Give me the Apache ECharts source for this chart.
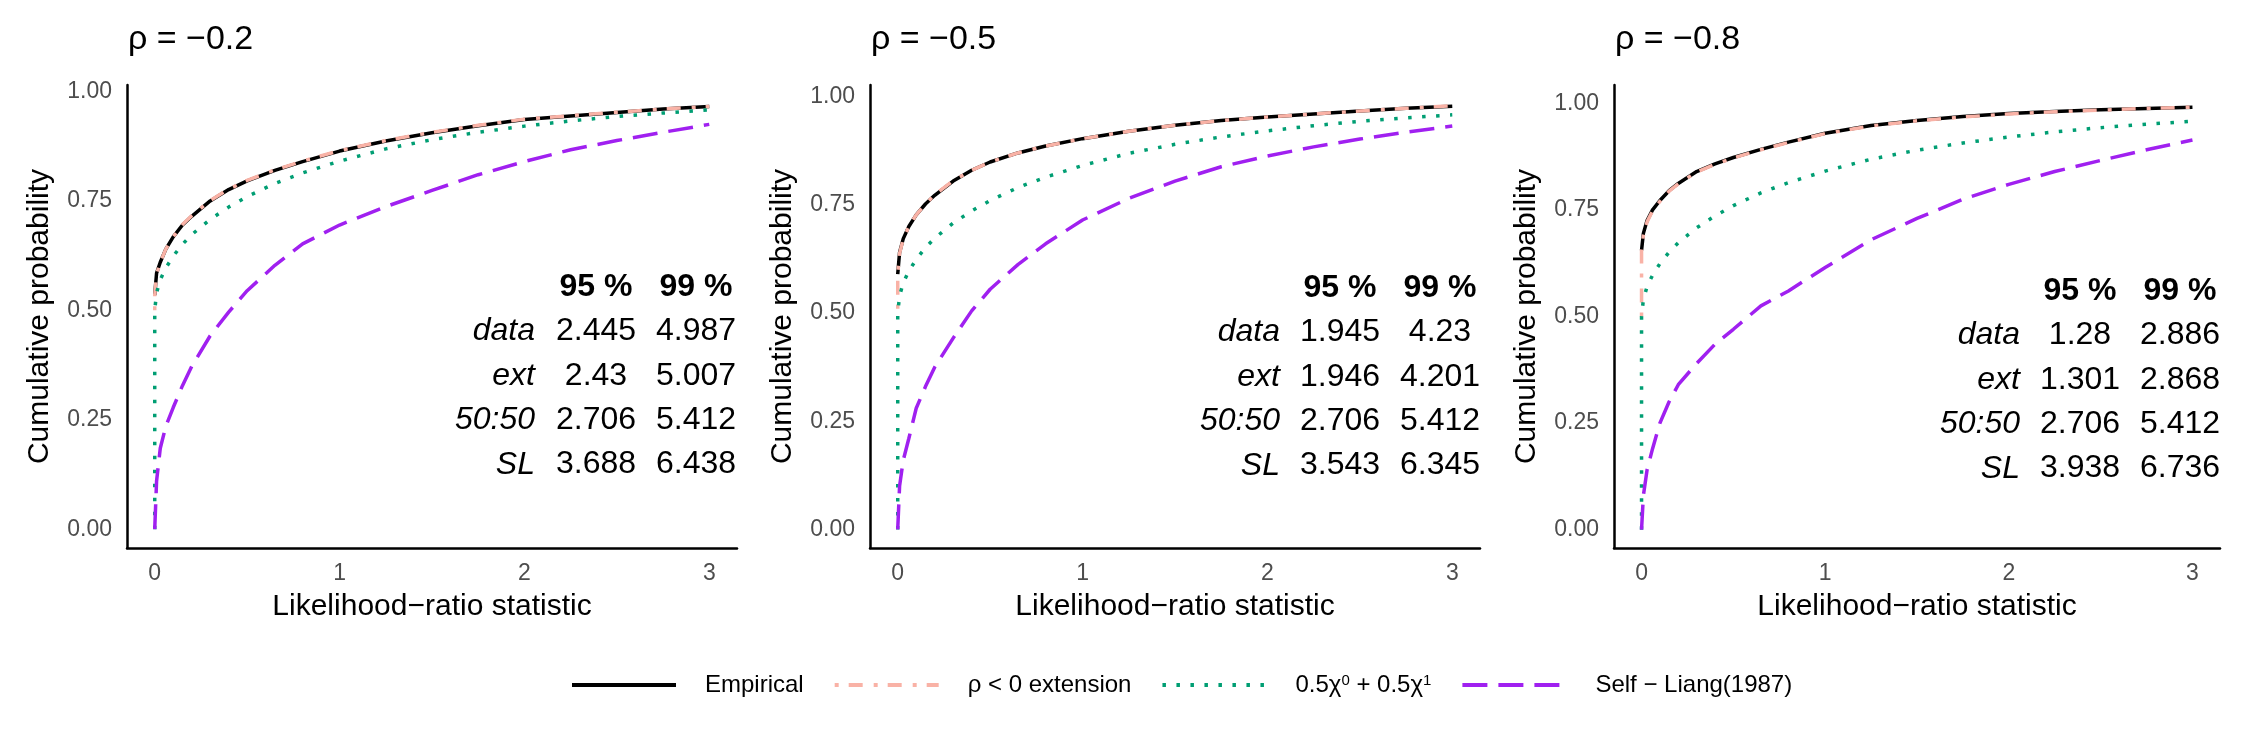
<!DOCTYPE html>
<html>
<head>
<meta charset="utf-8">
<script src="https://cdn.jsdelivr.net/npm/echarts@6/dist/echarts.min.js"></script>
<style>
  html, body { margin: 0; padding: 0; background: #fff; }
  #chart { width: 2255px; height: 746px; }
</style>
</head>
<body>
<div id="chart"></div>
<script>
const xGrid = [0, 0.01, 0.03, 0.06, 0.1, 0.15, 0.2, 0.3, 0.4, 0.5, 0.65, 0.8, 1, 1.25, 1.5, 1.75, 2, 2.25, 2.5, 2.75, 3];

// rho = -0.2
const emp02 = [0.535, 0.585, 0.61, 0.64, 0.668, 0.695, 0.715, 0.75, 0.776, 0.796, 0.82, 0.84, 0.864, 0.887, 0.906, 0.922, 0.936, 0.944, 0.952, 0.96, 0.966];
const ext02 = [0.535, 0.582, 0.61, 0.64, 0.668, 0.696, 0.716, 0.751, 0.777, 0.797, 0.821, 0.841, 0.865, 0.888, 0.907, 0.923, 0.937, 0.945, 0.953, 0.96, 0.966];
const sl02  = [0, 0.11, 0.185, 0.235, 0.278, 0.328, 0.372, 0.442, 0.496, 0.545, 0.603, 0.652, 0.695, 0.737, 0.774, 0.81, 0.84, 0.867, 0.888, 0.907, 0.925];

// rho = -0.5
const emp05 = [0.59, 0.64, 0.672, 0.70, 0.727, 0.752, 0.772, 0.805, 0.83, 0.849, 0.87, 0.886, 0.903, 0.92, 0.934, 0.945, 0.953, 0.96, 0.967, 0.973, 0.978];
const ext05 = [0.59, 0.638, 0.671, 0.70, 0.727, 0.752, 0.773, 0.806, 0.83, 0.849, 0.87, 0.886, 0.903, 0.92, 0.934, 0.945, 0.953, 0.96, 0.967, 0.973, 0.979];
const sl05  = [0, 0.1, 0.16, 0.21, 0.28, 0.33, 0.375, 0.442, 0.505, 0.555, 0.612, 0.66, 0.715, 0.765, 0.805, 0.838, 0.863, 0.884, 0.902, 0.918, 0.932];

// rho = -0.8
const emp08 = [0.655, 0.695, 0.725, 0.75, 0.772, 0.795, 0.812, 0.84, 0.858, 0.873, 0.892, 0.909, 0.93, 0.948, 0.96, 0.969, 0.976, 0.981, 0.985, 0.988, 0.991];
const ext08 = [0.655, 0.69, 0.722, 0.748, 0.77, 0.794, 0.811, 0.839, 0.857, 0.872, 0.891, 0.908, 0.929, 0.947, 0.959, 0.968, 0.975, 0.98, 0.984, 0.988, 0.991];
const sl08  = [0, 0.08, 0.14, 0.19, 0.25, 0.3, 0.34, 0.39, 0.435, 0.47, 0.525, 0.56, 0.615, 0.68, 0.73, 0.775, 0.81, 0.84, 0.866, 0.891, 0.914];

// 50:50 mixture, same in every panel
const mix = [0.5, 0.54, 0.57, 0.597, 0.624, 0.651, 0.673, 0.708, 0.736, 0.76, 0.79, 0.814, 0.841, 0.869, 0.89, 0.907, 0.921, 0.933, 0.943, 0.951, 0.958];
const extBase = [0.5, 0.51, 0.5];   // where the extension curve starts at x = 0
const mixBase = 0;

// quantile tables
const panelTitles = ['ρ = −0.2', 'ρ = −0.5', 'ρ = −0.8'];
const quantHeader = ['95 %', '99 %'];
const quantRows = ['data', 'ext', '50:50', 'SL'];
const q95 = [[2.445, 2.43, 2.706, 3.688], [1.945, 1.946, 2.706, 3.543], [1.28, 1.301, 2.706, 3.938]];
const q99 = [[4.987, 5.007, 5.412, 6.438], [4.23, 4.201, 5.412, 6.345], [2.886, 2.868, 5.412, 6.736]];

const xTicks = [0, 1, 2, 3];
const yTicks = [0, 0.25, 0.5, 0.75, 1];
const seriesNames = ['Empirical', 'ρ < 0 extension', '0.5χ0 + 0.5χ1', 'Self − Liang(1987)'];

const empAll = [emp02, emp05, emp08];
const extAll = [ext02, ext05, ext08];
const slAll = [sl02, sl05, sl08];

// layout
const FONT = '"Liberation Sans", Arial, Helvetica, sans-serif';
const grids = [
    {left: 127, top: 85, width: 610, height: 463},
    {left: 870, top: 85, width: 610, height: 463},
    {left: 1614, top: 85, width: 606, height: 463}
];
const yMax = [1.015, 1.027, 1.043];
const tablePos = [
    {lab: 535, c1: 596, c2: 696, top: 287},
    {lab: 1280, c1: 1340, c2: 1440, top: 288},
    {lab: 2020, c1: 2080, c2: 2180, top: 291}
];
const rowStep = 44.4;

const colors = ['#000000', '#F9B2A6', '#009E73', '#A020F0'];
const dashes = ['solid', [4, 10, 14, 11], [3.5, 10.5], [25, 11]];

const pairs = (ys) => xGrid.map((x, i) => [x, ys[i]]);

const series = [];
grids.forEach((g, i) => {
    const curves = [
        pairs(empAll[i]),
        [[0, extBase[i]]].concat(pairs(extAll[i])),
        [[0, mixBase]].concat(pairs(mix)),
        pairs(slAll[i])
    ];
    curves.forEach((d, k) => {
        series.push({
            type: 'line',
            name: seriesNames[k],
            xAxisIndex: i, yAxisIndex: i,
            data: d,
            symbol: 'none',
            smooth: false,
            silent: true,
            z: 2 + k,
            lineStyle: {color: colors[k], width: 3.5, type: dashes[k]},
            itemStyle: {color: colors[k]}
        })
    })
})

const graphics = [];
grids.forEach((g, i) => {
    graphics.push({
        type: 'text', x: g.left + 1, y: 40,
        style: {text: panelTitles[i], fontSize: 34, fontFamily: FONT, fill: '#000', align: 'left', verticalAlign: 'middle'}
    });
    const p = tablePos[i];
    [p.c1, p.c2].forEach((cx, j) => {
        graphics.push({
            type: 'text', x: cx, y: p.top,
            style: {text: quantHeader[j], fontSize: 32, fontWeight: 'bold', fontFamily: FONT, fill: '#000', align: 'center', verticalAlign: 'middle'}
        });
        const vals = j === 0 ? q95[i] : q99[i];
        graphics.push({
            type: 'text', x: cx, y: p.top + rowStep / 2,
            style: {text: vals.map(String).join('\n'), lineHeight: rowStep, fontSize: 32, fontFamily: FONT, fill: '#000', align: 'center', verticalAlign: 'top'}
        });
    });
    graphics.push({
        type: 'text', x: p.lab, y: p.top + rowStep / 2,
        style: {text: quantRows.join('\n'), lineHeight: rowStep, fontSize: 32, fontStyle: 'italic', fontFamily: FONT, fill: '#000', align: 'right', verticalAlign: 'top'}
    });
})

const option = {
    backgroundColor: '#fff',
    animation: false,
    grid: grids,
    xAxis: grids.map((g, i) => ({
        type: 'value', gridIndex: i, min: -0.15, max: 3.15,
        axisLine: {show: true, onZero: false, lineStyle: {color: '#000', width: 2.5}},
        axisTick: {show: false},
        splitLine: {show: false},
        axisLabel: {customValues: xTicks, formatter: v => String(v), margin: 14, fontSize: 23, color: '#4D4D4D', fontFamily: FONT},
        name: 'Likelihood−ratio statistic', nameLocation: 'middle', nameGap: 44,
        nameTextStyle: {fontSize: 30, color: '#000', fontFamily: FONT}
    })),
    yAxis: grids.map((g, i) => ({
        type: 'value', gridIndex: i, min: -0.043, max: yMax[i],
        axisLine: {show: true, onZero: false, lineStyle: {color: '#000', width: 2.5}},
        axisTick: {show: false},
        splitLine: {show: false},
        axisLabel: {customValues: yTicks, formatter: v => v.toFixed(2), margin: 15, fontSize: 23, color: '#4D4D4D', fontFamily: FONT},
        name: 'Cumulative probability', nameLocation: 'middle', nameGap: 72,
        nameTextStyle: {fontSize: 30, color: '#000', fontFamily: FONT}
    })),
    legend: {
        left: 565, top: 668,
        itemWidth: 104, itemHeight: 14, itemGap: 29,
        data: seriesNames,
        selectedMode: false,
        itemStyle: {opacity: 0},
        lineStyle: {width: 4},
        formatter: name => name === seriesNames[2] ? '0.5χ{sup|0} + 0.5χ{sup|1}' : name,
        textStyle: {
            fontSize: 24, color: '#000', fontFamily: FONT, padding: [0, 0, 0, 24],
            rich: {sup: {fontSize: 15, verticalAlign: 'top', fontFamily: FONT, color: '#000'}}
        }
    },
    graphic: graphics,
    series: series
}

const chart = echarts.init(document.getElementById('chart'), null, {renderer: 'canvas'});
chart.setOption(option);
</script>
</body>
</html>
